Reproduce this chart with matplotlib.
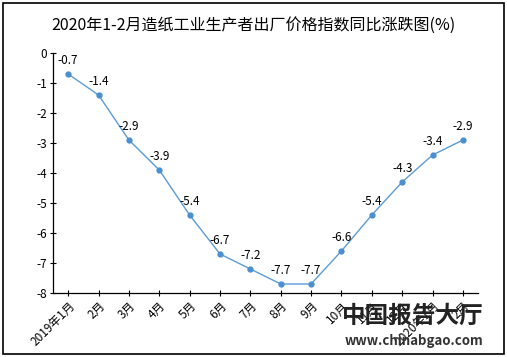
import matplotlib.pyplot as plt
from matplotlib.patches import Rectangle

plt.rcParams['font.family'] = ['Noto Sans CJK SC', 'DejaVu Sans']

# Data
months = ['2019年1月', '2月', '3月', '4月', '5月', '6月', '7月', '8月', '9月',
          '10月', '11月', '12月', '2020年1月', '2月']
values = [-0.7, -1.4, -2.9, -3.9, -5.4, -6.7, -7.2, -7.7, -7.7,
          -6.6, -5.4, -4.3, -3.4, -2.9]
y_ticks = [0, -1, -2, -3, -4, -5, -6, -7, -8]

fig = plt.figure(figsize=(5.07, 3.57), dpi=100)
ax = fig.add_axes([0.1045, 0.1793, 0.8385, 0.6722])

x = range(len(values))
ax.plot(x, values, color='#5B9BD5', linewidth=1.0, marker='o',
        markersize=3.5, markerfacecolor='#4A8FD0', markeredgecolor='#4A8FD0')

for i, v in zip(x, values):
    ax.annotate(f'{v:g}', (i, v), xytext=(0, 5), textcoords='offset points',
                ha='center', va='bottom', fontsize=8.5)

ax.set_xlim(-0.5, len(values) - 0.5)
ax.set_ylim(-8, 0)
ax.set_yticks(y_ticks)
ax.set_yticklabels([str(t) for t in y_ticks])
ax.set_xticks(list(x))
ax.set_xticklabels(months, rotation=45, ha='right', rotation_mode='anchor')
ax.tick_params(axis='both', direction='inout', length=5, width=0.8,
               labelsize=8.5, pad=2)

for s in ['top', 'right']:
    ax.spines[s].set_visible(False)
ax.spines['left'].set_linewidth(0.9)
ax.spines['bottom'].set_linewidth(0.9)

fig.text(0.5, 0.93, '2020年1-2月造纸工业生产者出厂价格指数同比涨跌图(%)',
         ha='center', va='center', fontsize=11.5)

# watermark
fig.text(0.675, 0.115, '中国报告大厅', fontsize=17, fontweight='bold',
         color='#222222', ha='left', va='center')
fig.text(0.68, 0.045, 'www.chinabgao.com', fontsize=9.5, fontweight='bold',
         color='#333333', ha='left', va='center')

fig.patches.append(Rectangle((0.006, 0.008), 0.988, 0.984, transform=fig.transFigure,
                             fill=False, edgecolor='black', linewidth=1.2))

fig.savefig('out.png', dpi=100)
